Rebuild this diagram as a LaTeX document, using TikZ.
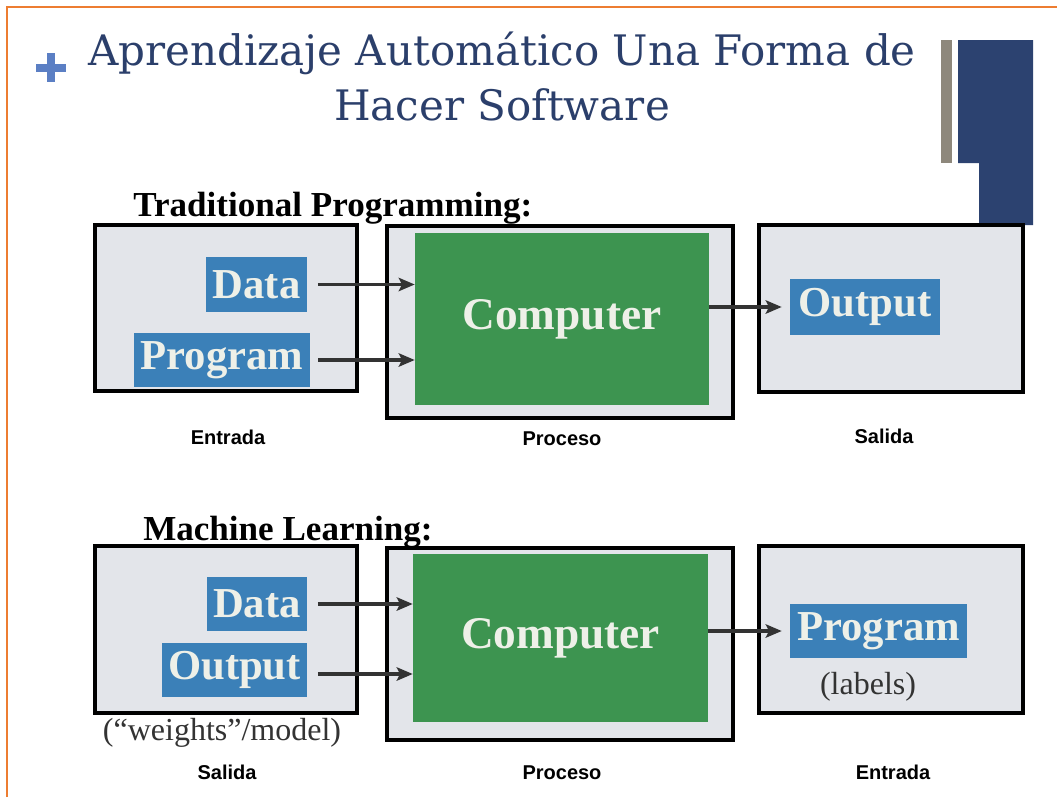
\documentclass[tikz,border=0pt]{standalone}
\usepackage{fontspec}
\setmainfont{Liberation Serif}
\newfontfamily\titlefont{DejaVu Serif}
\newfontfamily\labfont{Liberation Sans}
\usetikzlibrary{arrows.meta}
\definecolor{orangeb}{HTML}{ED7D31}
\definecolor{navyt}{HTML}{2B3F6B}
\definecolor{navyblock}{HTML}{2C4270}
\definecolor{graybar}{HTML}{8E887C}
\definecolor{plusblue}{HTML}{5B7FC4}
\definecolor{panelgray}{HTML}{E3E5EA}
\definecolor{compgreen}{HTML}{3D9450}
\definecolor{labblue}{HTML}{3B80B8}
\definecolor{labtext}{HTML}{EEF0E8}
\definecolor{arrowgray}{HTML}{333333}
\begin{document}
\begin{tikzpicture}[x=0.75pt,y=-0.75pt,
  sz/.style 2 args={minimum width=#1*0.75pt, minimum height=#2*0.75pt},
  panel/.style={draw=black, line width=2.6pt, fill=panelgray, inner sep=0pt},
  compbox/.style={fill=compgreen, inner sep=0pt, text=labtext, font=\fontsize{34pt}{36pt}\selectfont\bfseries},
  bluebox/.style={fill=labblue, inner sep=0pt, text=labtext, font=\fontsize{32pt}{34pt}\selectfont\bfseries},
  arr/.style={draw=arrowgray, line width=2.4pt, -{Stealth[length=12pt,width=10pt,inset=2.5pt]}},
  heading/.style={anchor=base west, inner sep=0pt, font=\fontsize{26.3pt}{28pt}\selectfont\bfseries},
  caption/.style={anchor=base, inner sep=0pt, font=\labfont\fontsize{15pt}{17pt}\selectfont\bfseries},
  note/.style={inner sep=0pt, text=black!80, font=\fontsize{24pt}{26pt}\selectfont},
  titlestyle/.style={anchor=base, inner sep=0pt, text=navyt, font=\titlefont\fontsize{31.5pt}{38pt}\selectfont}]
\fill[white] (0,0) rectangle (1057,797);
\useasboundingbox (0,0) rectangle (1057,797);
% slide frame
\draw[orangeb, line width=1.5pt] (7,797) -- (7,7) -- (1057,7);
% decorations
\fill[graybar] (941,40) rectangle (952,163);
\fill[navyblock] (958,40) -- (1033,40) -- (1033,225) -- (979,225) -- (979,163) -- (958,163) -- cycle;
\fill[plusblue] (36,63.5) rectangle (66,71.5);
\fill[plusblue] (47,53) rectangle (55,82);
% title
\node[titlestyle] (title1) at (502,65) {Aprendizaje Automático Una Forma de};
\node[titlestyle] (title2) at (502,120) {Hacer Software};
% Traditional programming
\node[heading] (head1) at (133,216) {Traditional Programming:};
\node[panel, sz={262}{166}] (boxA1) at (226,308) {};
\node[panel, sz={346}{192}] (boxB1) at (560,322) {};
\node[panel, sz={264}{167}] (boxC1) at (891,308.5) {};
\node[compbox, sz={294}{172}] (comp1) at (562,319) {Computer};
\node[bluebox, sz={101}{55}] (data1) at (256.5,284.5) {Data};
\node[bluebox, sz={176}{54}] (prog1) at (222,360) {Program};
\node[bluebox, sz={150}{56}] (out1) at (865,307) {Output};
\draw[arr] ([xshift=8pt]data1.east) -- (data1.east -| comp1.west);
\draw[arr] ([xshift=6pt]prog1.east) -- (prog1.east -| comp1.west);
\draw[arr] (comp1.east |- out1.west) -- ([xshift=-6pt]out1.west);
\node[caption] (cap1) at (228,444) {Entrada};
\node[caption] (cap2) at (562,445) {Proceso};
\node[caption] (cap3) at (884,443) {Salida};
% Machine learning
\node[heading] (head2) at (143,540) {Machine Learning:};
\node[panel, sz={262}{167}] (boxA2) at (226,629.5) {};
\node[panel, sz={346}{192}] (boxB2) at (560,644) {};
\node[panel, sz={264}{167}] (boxC2) at (891,629.5) {};
\node[compbox, sz={295}{168}] (comp2) at (560.5,638) {Computer};
\node[bluebox, sz={100}{54}] (data2) at (257,604) {Data};
\node[bluebox, sz={145}{54}] (outp2) at (234.5,670) {Output};
\node[bluebox, sz={177}{54}] (prog2) at (878.5,631) {Program};
\node[note] (weights) at (222,733) {(“weights”/model)};
\node[note] (labels) at (868,687) {(labels)};
\draw[arr] ([xshift=8pt]data2.east) -- (data2.east -| comp2.west);
\draw[arr] ([xshift=8pt,yshift=-3pt]outp2.east) -- ([yshift=-3pt]outp2.east -| comp2.west);
\draw[arr] (comp2.east |- prog2.west) -- ([xshift=-6pt]prog2.west);
\node[caption] (cap4) at (227,779) {Salida};
\node[caption] (cap5) at (562,779) {Proceso};
\node[caption] (cap6) at (893,779) {Entrada};
\end{tikzpicture}
\end{document}
